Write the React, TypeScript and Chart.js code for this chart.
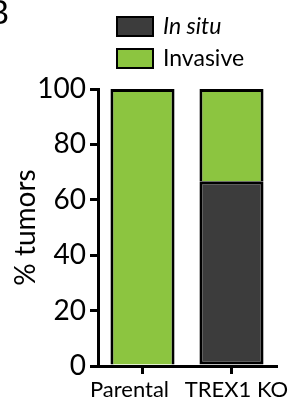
import React, { useEffect, useRef } from "react";
import { Chart, registerables } from "chart.js";

Chart.register(...registerables);

const categories = ["Parental", "TREX1 KO"];
const seriesLabels = ["In situ", "Invasive"];
const inSitu = [0, 66.7];
const invasive = [100, 33.3];
const yTicks = [0, 20, 40, 60, 80, 100];
const yTitle = "% tumors";
const panelLetter = "B";

const FONT = "Lato, 'Open Sans', sans-serif";
const labelShift = [-13, 5];

const legendPlugin = {
  id: "customLegend",
  afterDraw(chart: any) {
    const ctx = chart.ctx;
    ctx.save();
    ctx.fillStyle = "#000";
    ctx.font = `32px ${FONT}`;
    ctx.textAlign = "right";
    ctx.textBaseline = "alphabetic";
    ctx.fillText(panelLetter, 9, 24);
    const styles = ["italic", "normal"];
    chart.data.datasets.forEach((ds: any, i: number) => {
      const top = 17 + i * 32;
      ctx.fillStyle = ds.backgroundColor;
      ctx.fillRect(117, top, 36, 19);
      ctx.lineWidth = 2;
      ctx.strokeStyle = "#000";
      ctx.strokeRect(117, top, 36, 19);
      ctx.fillStyle = "#000";
      ctx.font = `${styles[i]} 23px ${FONT}`;
      ctx.textAlign = "left";
      ctx.textBaseline = "middle";
      ctx.fillText(ds.label, 163, top + 10);
    });
    // x category labels
    const xs = chart.scales.x;
    ctx.font = `22px ${FONT}`;
    ctx.textAlign = "center";
    ctx.textBaseline = "alphabetic";
    chart.data.labels.forEach((lab: string, i: number) => {
      ctx.fillText(lab, xs.getPixelForValue(i) + labelShift[i], 397);
    });
    ctx.restore();
  },
};

export default function App() {
  const ref = useRef<HTMLCanvasElement | null>(null);
  useEffect(() => {
    document.body.style.margin = "0";
    const chart = new Chart(ref.current!, {
      type: "bar",
      data: {
        labels: categories,
        datasets: [
          {
            label: seriesLabels[0],
            data: inSitu,
            backgroundColor: "#3c3c3c",
            borderColor: "#000",
            borderWidth: 3,
            borderSkipped: false,
          },
          {
            label: seriesLabels[1],
            data: invasive,
            backgroundColor: "#8cc540",
            borderColor: "#000",
            borderWidth: 3,
            borderSkipped: "bottom",
          },
        ],
      },
      options: {
        animation: false,
        responsive: false,
        devicePixelRatio: 1,
        layout: { padding: { top: 89, right: 18, left: 0, bottom: 0 } },
        plugins: { legend: { display: false }, tooltip: { enabled: false } },
        scales: {
          x: {
            stacked: true,
            categoryPercentage: 1,
            barPercentage: 0.67,
            grid: { display: true, offset: false, drawOnChartArea: false, drawTicks: true, tickLength: 8, color: "#000", lineWidth: 3 },
            border: { display: true, color: "#000", width: 3 },
            ticks: { display: false },
            afterFit: (s: any) => { s.height = 42; },
          },
          y: {
            stacked: true,
            min: 0,
            max: 100,
            afterBuildTicks: (s: any) => { s.ticks = yTicks.map((v) => ({ value: v })); },
            grid: { display: true, drawOnChartArea: false, drawTicks: true, tickLength: 8, color: "#000", lineWidth: 3 },
            border: { display: true, color: "#000", width: 3 },
            ticks: { color: "#000", font: { family: FONT, size: 28 }, padding: 4 },
            title: { display: true, text: yTitle, color: "#000", font: { family: FONT, size: 28 }, padding: { top: 9, bottom: 0 } },
            afterFit: (s: any) => { s.width = 98; },
          },
        },
      },
      plugins: [legendPlugin],
    } as any);
    return () => chart.destroy();
  }, []);
  return (
    <div style={{ position: "absolute", left: 0, top: 0, width: 294, height: 408 }}>
      <canvas ref={ref} width={294} height={408} style={{ width: 294, height: 408 }} />
    </div>
  );
}
